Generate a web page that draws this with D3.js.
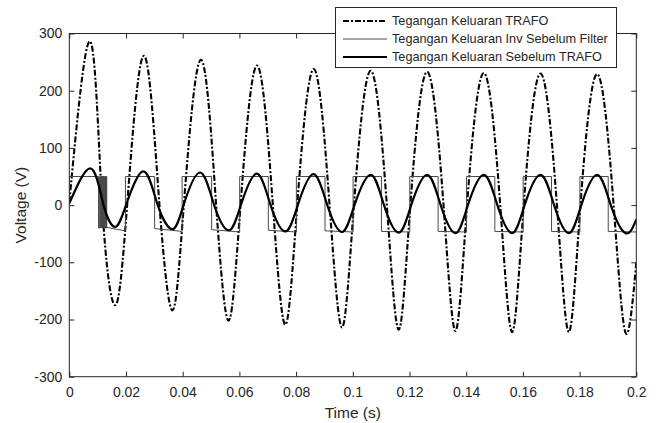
<!DOCTYPE html>
<html>
<head>
<meta charset="utf-8">
<script src="https://cdn.jsdelivr.net/npm/d3@7"></script>
<style>
  body { margin: 0; background: #fff; }
  svg text { font-family: "Liberation Sans", Arial, sans-serif; fill: #262626; }
</style>
</head>
<body>
<svg id="chart" width="657" height="423"></svg>
<script>
// Key points: [time (s), voltage (V)] at peaks, troughs and zero crossings
const trafo = [
  [0, 5], [0.0074, 286], [0.0116, 0], [0.0162, -175], [0.0204, 0],
  [0.0263, 261], [0.0318, 0], [0.0364, -184], [0.0404, 0],
  [0.0464, 254], [0.0518, 0], [0.0562, -202], [0.0604, 0],
  [0.0662, 244], [0.0718, 0], [0.0762, -209], [0.0804, 0],
  [0.0862, 238], [0.0918, 0], [0.0962, -214], [0.1004, 0],
  [0.1063, 235], [0.1120, 0], [0.1162, -218], [0.1203, 0],
  [0.1262, 233], [0.1320, 0], [0.1362, -220], [0.1403, 0],
  [0.1462, 231], [0.1520, 0], [0.1562, -222], [0.1603, 0],
  [0.1662, 230], [0.1720, 0], [0.1762, -222], [0.1803, 0],
  [0.1862, 229], [0.1920, 0], [0.1962, -223], [0.2, -101]
];

const sebelumTrafo = [
  [0, 3], [0.0076, 64], [0.0121, 0], [0.0162, -38], [0.0200, 0],
  [0.0261, 59], [0.0312, 0], [0.0364, -42], [0.0403, 0],
  [0.0461, 57], [0.0511, 0], [0.0563, -44], [0.0605, 0],
  [0.0661, 55], [0.0710, 0], [0.0762, -46], [0.0806, 0],
  [0.0861, 54], [0.0910, 0], [0.0962, -47], [0.1006, 0],
  [0.1063, 53], [0.1110, 0], [0.1162, -48], [0.1206, 0],
  [0.1262, 53], [0.1310, 0], [0.1362, -49], [0.1406, 0],
  [0.1462, 53], [0.1510, 0], [0.1562, -49], [0.1606, 0],
  [0.1662, 53], [0.1710, 0], [0.1762, -49], [0.1806, 0],
  [0.1862, 53], [0.1910, 0], [0.1962, -49], [0.2, -25]
];

// Inverter output before the filter (square wave with a switching burst near 0.011 s)
const invSebelumFilter = [
  [0, 0], [0, 50], [0.0103, 50], [0.0103, -40], [0.0107, -40], [0.0107, 50],
  [0.0110, 50], [0.0110, -40], [0.0111, -40], [0.0111, 50], [0.0112, 50], [0.0112, -40],
  [0.0113, -40], [0.0113, 50], [0.0114, 50], [0.0114, -40], [0.0115, -40], [0.0115, 50],
  [0.0116, 50], [0.0116, -40], [0.0117, -40], [0.0117, 50], [0.0118, 50], [0.0118, -40],
  [0.0119, -40], [0.0119, 50], [0.0120, 50], [0.0120, -40], [0.0121, -40], [0.0121, 50],
  [0.0122, 50], [0.0122, -40], [0.0123, -40], [0.0123, 50], [0.0124, 50], [0.0124, -40],
  [0.0125, -40], [0.0125, 50], [0.0126, 50], [0.0126, -40], [0.0127, -40], [0.0127, 50],
  [0.0128, 50], [0.0128, -40], [0.0129, -40], [0.0129, 50], [0.0130, 50], [0.0130, -40],
  [0.0131, -40], [0.0131, 50], [0.0132, 50], [0.0132, -40],
  [0.0133, -40], [0.0133, -39], [0.0198, -45], [0.0198, 50],
  [0.0301, 50], [0.0301, -41], [0.0398, -46], [0.0398, 50],
  [0.0502, 50], [0.0502, -43], [0.0601, -47], [0.0601, 50],
  [0.0702, 50], [0.0702, -44], [0.0801, -47], [0.0801, 50],
  [0.0902, 50], [0.0902, -45], [0.1001, -47], [0.1001, 50],
  [0.1101, 50], [0.1101, -46], [0.1201, -47], [0.1201, 50],
  [0.1301, 50], [0.1301, -46], [0.1401, -47], [0.1401, 50],
  [0.1501, 50], [0.1501, -46], [0.1601, -47], [0.1601, 50],
  [0.1701, 50], [0.1701, -46], [0.1801, -47], [0.1801, 50],
  [0.1901, 50], [0.1901, -46], [0.2, -47]
];

const xTicks = [0, 0.02, 0.04, 0.06, 0.08, 0.1, 0.12, 0.14, 0.16, 0.18, 0.2];
const yTicks = [-300, -200, -100, 0, 100, 200, 300];
const legendLabels = [
  'Tegangan Keluaran TRAFO',
  'Tegangan Keluaran Inv Sebelum Filter',
  'Tegangan Keluaran Sebelum TRAFO'
];

const svg = d3.select('#chart');
const margin = { top: 33.5, right: 20.7, bottom: 46.3, left: 69.3 };
const width = +svg.attr('width') - margin.left - margin.right;
const height = +svg.attr('height') - margin.top - margin.bottom;

const xScale = d3.scaleLinear().domain([0, 0.2]).range([0, width]);
const yScale = d3.scaleLinear().domain([-300, 300]).range([height, 0]);

const g = svg.append('g').attr('transform', `translate(${margin.left},${margin.top})`);

// Series styles
const styles = [
  { data: trafo, color: '#000', width: 2.1, dash: '6,2,2,2', curve: d3.curveNatural },
  { data: invSebelumFilter, color: '#4a4a4a', width: 1, dash: null, curve: d3.curveLinear },
  { data: sebelumTrafo, color: '#000', width: 2.2, dash: null, curve: d3.curveNatural }
];

svg.append('clipPath').attr('id', 'plotclip')
  .append('rect').attr('x', 0).attr('y', 0).attr('width', width).attr('height', height);

const plot = g.append('g').attr('clip-path', 'url(#plotclip)');
styles.forEach(s => {
  const line = d3.line()
    .x(d => xScale(d[0]))
    .y(d => yScale(d[1]))
    .curve(s.curve);
  plot.append('path')
    .datum(s.data)
    .attr('fill', 'none')
    .attr('stroke', s.color)
    .attr('stroke-width', s.width)
    .attr('stroke-dasharray', s.dash)
    .attr('d', line);
});

// Axes, MATLAB style box with inward ticks
const axisColor = '#262626';
function styleAxis(sel, labels) {
  sel.select('.domain').remove();
  sel.selectAll('.tick line').attr('stroke', axisColor);
  sel.selectAll('.tick text')
    .style('font-size', '14px')
    .attr('fill', '#262626');
  if (!labels) sel.selectAll('.tick text').remove();
}

const plainFormat = d => String(d);

g.append('g')
  .attr('transform', `translate(0,${height})`)
  .call(d3.axisBottom(xScale).tickValues(xTicks).tickSizeInner(-5).tickSizeOuter(0).tickPadding(10).tickFormat(plainFormat))
  .call(sel => styleAxis(sel, true));
g.append('g')
  .call(d3.axisTop(xScale).tickValues(xTicks).tickSizeInner(-5).tickSizeOuter(0))
  .call(sel => styleAxis(sel, false));
g.append('g')
  .call(d3.axisLeft(yScale).tickValues(yTicks).tickSizeInner(-5).tickSizeOuter(0).tickPadding(7).tickFormat(plainFormat))
  .call(sel => styleAxis(sel, true));
g.append('g')
  .attr('transform', `translate(${width},0)`)
  .call(d3.axisRight(yScale).tickValues(yTicks).tickSizeInner(-5).tickSizeOuter(0))
  .call(sel => styleAxis(sel, false));

g.append('rect')
  .attr('width', width).attr('height', height)
  .attr('fill', 'none').attr('stroke', axisColor).attr('stroke-width', 1);

// Axis labels
svg.append('text')
  .attr('x', margin.left + width / 2)
  .attr('y', 418)
  .attr('text-anchor', 'middle')
  .style('font-size', '15.5px')
  .text('Time (s)');
svg.append('text')
  .attr('transform', `translate(26,${margin.top + height / 2}) rotate(-90)`)
  .attr('text-anchor', 'middle')
  .style('font-size', '15.5px')
  .text('Voltage (V)');

// Legend
const legend = svg.append('g');
legend.append('rect')
  .attr('x', 335.5).attr('y', 7.5)
  .attr('width', 281).attr('height', 60)
  .attr('fill', '#fff').attr('stroke', axisColor).attr('stroke-width', 1);
legendLabels.forEach((label, i) => {
  const s = styles[i];
  const y = 21 + i * 18;
  legend.append('line')
    .attr('x1', 343).attr('x2', 387).attr('y1', y).attr('y2', y)
    .attr('stroke', s.color).attr('stroke-width', s.width)
    .attr('stroke-dasharray', s.dash);
  legend.append('text')
    .attr('x', 392).attr('y', y)
    .attr('dy', '0.35em')
    .style('font-size', '12.7px')
    .text(label);
});
</script>
</body>
</html>
